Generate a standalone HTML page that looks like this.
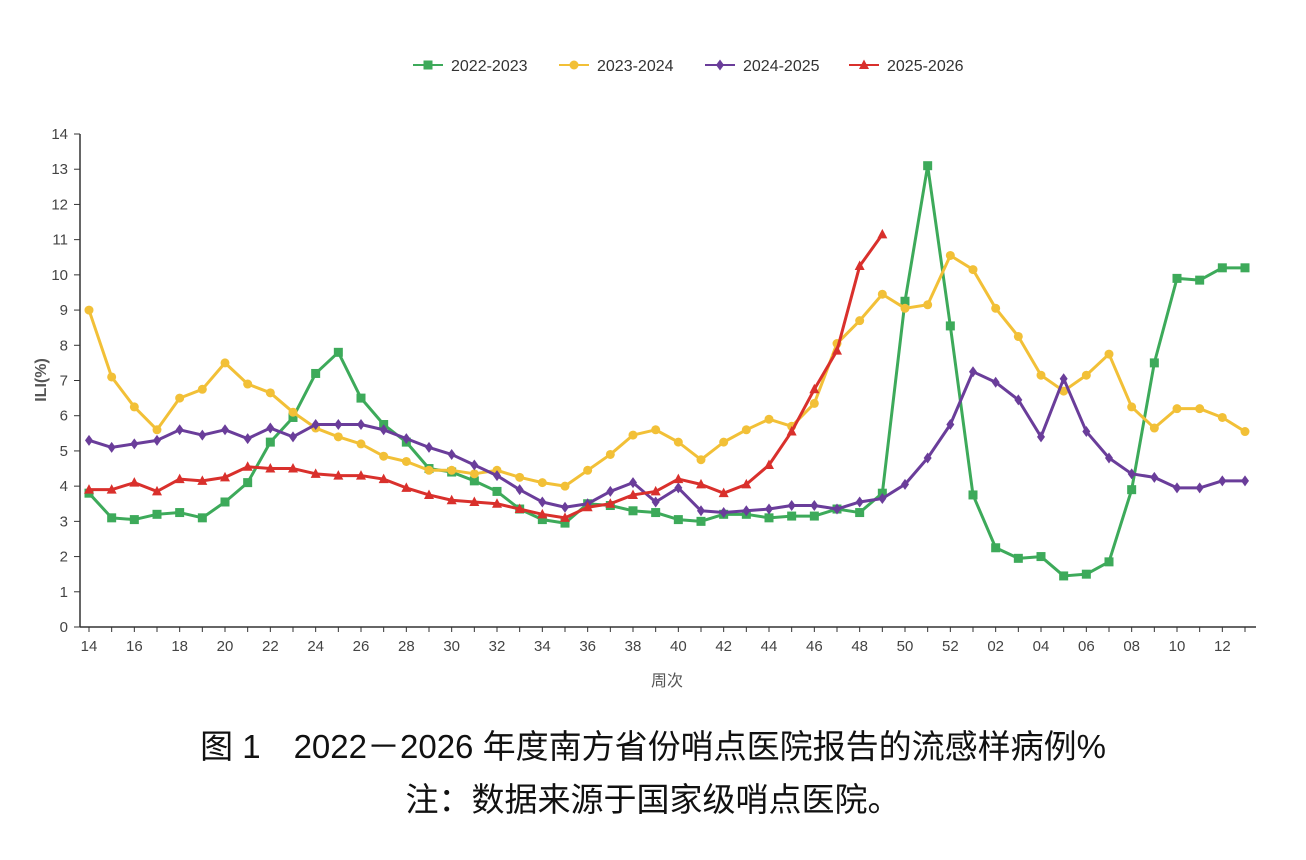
<!DOCTYPE html>
<html><head><meta charset="utf-8"><style>
body{margin:0;background:#fff;width:1306px;height:860px;overflow:hidden;font-family:"Liberation Sans","Noto Sans CJK SC",sans-serif}
.cap{position:absolute;left:0;width:1306px;text-align:center;color:#111;font-size:33px;line-height:40px}
</style></head><body>
<svg id="chart" width="1306" height="720" style="position:absolute;left:0;top:0" font-family="Liberation Sans, Noto Sans CJK SC, sans-serif"></svg>
<div class="cap" style="top:727px">图 1　2022－2026 年度南方省份哨点医院报告的流感样病例%</div>
<div class="cap" style="top:780px">注：数据来源于国家级哨点医院。</div>
<script>
const weeks=["14","15","16","17","18","19","20","21","22","23","24","25","26","27","28","29","30","31","32","33","34","35","36","37","38","39","40","41","42","43","44","45","46","47","48","49","50","51","52","01","02","03","04","05","06","07","08","09","10","11","12","13"];
const yTicks=[0,1,2,3,4,5,6,7,8,9,10,11,12,13,14];
const s2022=[3.8,3.1,3.05,3.2,3.25,3.1,3.55,4.1,5.25,5.95,7.2,7.8,6.5,5.75,5.25,4.5,4.4,4.15,3.85,3.35,3.05,2.95,3.5,3.45,3.3,3.25,3.05,3.0,3.2,3.2,3.1,3.15,3.15,3.35,3.25,3.8,9.25,13.1,8.55,3.75,2.25,1.95,2.0,1.45,1.5,1.85,3.9,7.5,9.9,9.85,10.2,10.2];
const s2023=[9.0,7.1,6.25,5.6,6.5,6.75,7.5,6.9,6.65,6.1,5.65,5.4,5.2,4.85,4.7,4.45,4.45,4.35,4.45,4.25,4.1,4.0,4.45,4.9,5.45,5.6,5.25,4.75,5.25,5.6,5.9,5.7,6.35,8.05,8.7,9.45,9.05,9.15,10.55,10.15,9.05,8.25,7.15,6.7,7.15,7.75,6.25,5.65,6.2,6.2,5.95,5.55];
const s2024=[5.3,5.1,5.2,5.3,5.6,5.45,5.6,5.35,5.65,5.4,5.75,5.75,5.75,5.6,5.35,5.1,4.9,4.6,4.3,3.9,3.55,3.4,3.5,3.85,4.1,3.55,3.95,3.3,3.25,3.3,3.35,3.45,3.45,3.35,3.55,3.65,4.05,4.8,5.75,7.25,6.95,6.45,5.4,7.05,5.55,4.8,4.35,4.25,3.95,3.95,4.15,4.15];
const s2025=[3.9,3.9,4.1,3.85,4.2,4.15,4.25,4.55,4.5,4.5,4.35,4.3,4.3,4.2,3.95,3.75,3.6,3.55,3.5,3.35,3.2,3.1,3.4,3.5,3.75,3.85,4.2,4.05,3.8,4.05,4.6,5.55,6.75,7.85,10.25,11.15];
const seriesNames=["2022-2023","2023-2024","2024-2025","2025-2026"];
const svg=document.getElementById('chart');const NS='http://www.w3.org/2000/svg';
const X0=89,X1=1245,Y0=627,Y1=134;
const xs=i=>X0+i*(X1-X0)/(weeks.length-1);
const ys=v=>Y0-(v/14)*(Y0-Y1);
function mk(t,a,p){const e=document.createElementNS(NS,t);for(const k in a)e.setAttribute(k,a[k]);(p||svg).appendChild(e);return e;}
let ax=mk('line',{x1:80,y1:Y0,x2:1256,y2:Y0,stroke:'#333','stroke-width':1.5});


let ay=mk('line',{x1:80,y1:Y1,x2:80,y2:Y0,stroke:'#333','stroke-width':1.5});


yTicks.forEach(v=>{mk('line',{x1:74,x2:80,y1:ys(v),y2:ys(v),stroke:'#333'});
 const t=mk('text',{x:68,y:ys(v)+5,'text-anchor':'end','font-size':15,fill:'#444'});t.textContent=v;
 
 });
weeks.forEach((w,i)=>{mk('line',{x1:xs(i),x2:xs(i),y1:Y0,y2:Y0+5,stroke:'#333'});
 if(i%2===0){const t=mk('text',{x:xs(i),y:Y0+24,'text-anchor':'middle','font-size':15,fill:'#444'});t.textContent=w;
 
 }});
let xt=mk('text',{x:667,y:686,'text-anchor':'middle','font-size':16,fill:'#555'});xt.textContent='周次';


let yt=mk('text',{x:0,y:0,'text-anchor':'middle','font-size':16,'font-weight':'bold',fill:'#555',transform:'translate(46,380) rotate(-90)'});yt.textContent='ILI(%)';


const colors=['#3daa5a','#f2c037','#6a3d9a','#d9302c'];const shapes=['sq','ci','di','tr'];
function marker(g,sh,x,y,c){
 if(sh==='sq')mk('rect',{x:x-4.5,y:y-4.5,width:9,height:9,fill:c},g);
 else if(sh==='ci')mk('circle',{cx:x,cy:y,r:4.5,fill:c},g);
 else if(sh==='di')mk('polygon',{points:`${x},${y-5.5} ${x+4},${y} ${x},${y+5.5} ${x-4},${y}`,fill:c},g);
 else mk('polygon',{points:`${x},${y-5.5} ${x+5},${y+4} ${x-5},${y+4}`,fill:c},g);}
[s2022,s2023,s2024,s2025].forEach((d,k)=>{
 const g=mk('g',{});
 
 
 mk('polyline',{points:d.map((v,i)=>xs(i)+','+ys(v)).join(' '),fill:'none',stroke:colors[k],'stroke-width':3,'stroke-linejoin':'round'},g);
 d.forEach((v,i)=>marker(g,shapes[k],xs(i),ys(v),colors[k]));});
const lx=[413,559,705,849];
seriesNames.forEach((n,k)=>{const g=mk('g',{});
 
 
 mk('line',{x1:lx[k],x2:lx[k]+30,y1:65,y2:65,stroke:colors[k],'stroke-width':2},g);
 marker(g,shapes[k],lx[k]+15,65,colors[k]);
 const t=mk('text',{x:lx[k]+38,y:71,'font-size':16,fill:'#333'},g);t.textContent=n;});
</script>
</body></html>
